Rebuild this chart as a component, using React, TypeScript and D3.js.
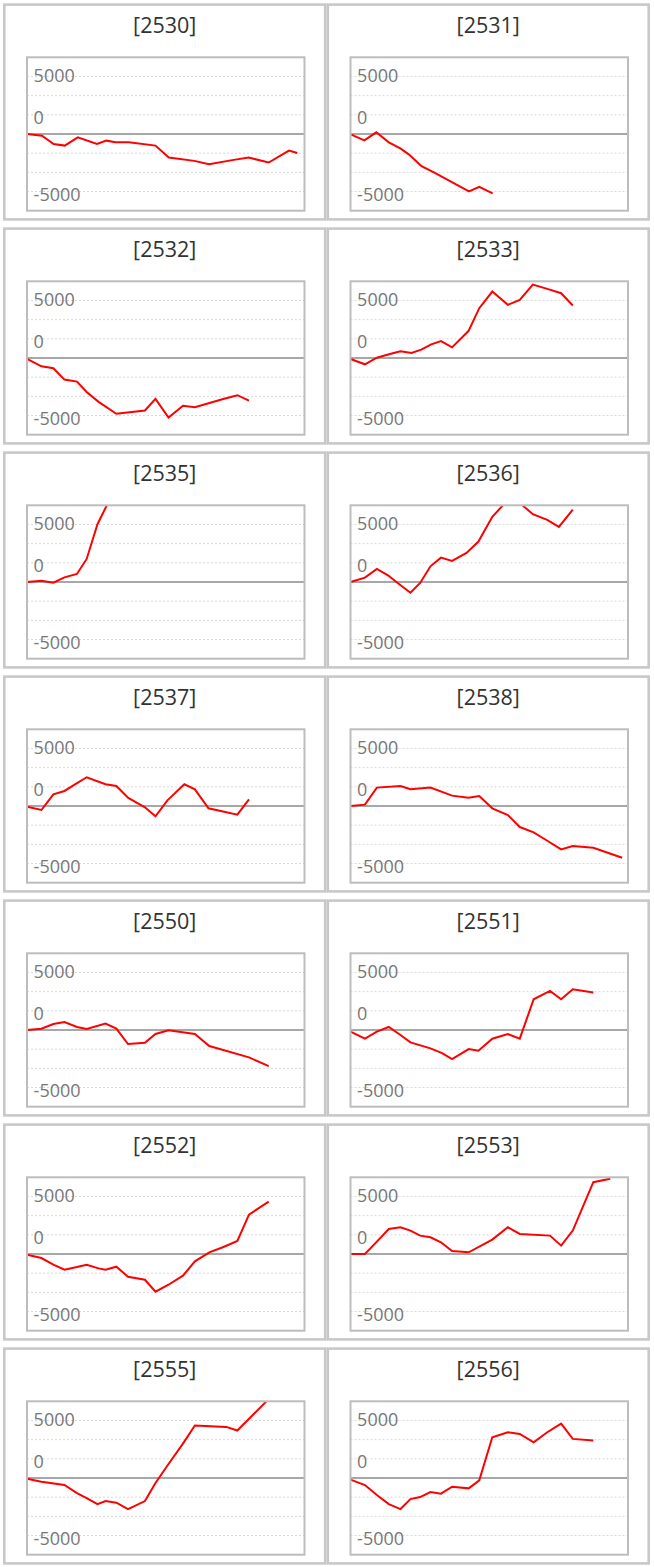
import React from 'react';
import * as d3 from 'd3';

// Panel codes (titles)
const codes = ['2530', '2531', '2532', '2533', '2535', '2536', '2537', '2538', '2550', '2551', '2552', '2553', '2555', '2556'];

// Y axis
const yMin = -5000;
const yMax = 5000;
const yLabels = [5000, 0, -5000];
const gridValues = [3750, 2500, 1250, -1250, -2500, -3750];

// Series: x position (percent of period), y value
const x2530 = [0, 5.4, 9.6, 13.6, 18.3, 25.2, 28.6, 31.9, 36.7, 46.3, 51.1, 60.3, 65.6, 74.5, 79.9, 87.1, 94.4, 97.4];
const y2530 = [0, -108, -649, -757, -216, -649, -433, -541, -541, -757, -1536, -1752, -1968, -1687, -1536, -1860, -1082, -1233];

const x2531 = [0.3, 5.0, 9.3, 13.8, 18.1, 21.1, 25.6, 30.4, 35.2, 42.7, 46.4, 51.2];
const y2531 = [-43, -411, 108, -541, -952, -1341, -2098, -2531, -3007, -3742, -3439, -3872];

const x2532 = [0, 5.2, 9.5, 13.5, 18.0, 21.5, 25.8, 32.2, 42.5, 46.3, 51.0, 56.2, 60.5, 70.4, 75.8, 80.0];
const y2532 = [-65, -541, -671, -1408, -1538, -2210, -2860, -3639, -3422, -2664, -3877, -3119, -3206, -2686, -2426, -2773];

const x2533 = [0, 5.2, 9.5, 14.2, 18.0, 22.0, 25.5, 29.1, 32.6, 36.6, 42.5, 46.4, 51.1, 56.7, 61.0, 65.7, 70.9, 75.9, 80.1];
const y2533 = [-65, -411, 22, 260, 433, 325, 541, 888, 1105, 693, 1755, 3249, 4332, 3466, 3791, 4787, 4506, 4224, 3423];

const x2535 = [0, 5.2, 9.5, 13.5, 18.0, 21.5, 25.4, 30.0];
const y2535 = [0, 87, -44, 305, 523, 1503, 3768, 5450];

const x2536 = [0, 5.2, 9.5, 13.5, 17.0, 21.6, 25.1, 28.8, 32.6, 36.6, 41.8, 46.1, 51.1, 56.7, 61.0, 65.7, 70.9, 75.1, 80.1];
const y2536 = [0, 283, 849, 436, -65, -697, -65, 1024, 1590, 1372, 1895, 2635, 4247, 5350, 5150, 4421, 4051, 3594, 4726];

const x2537 = [0, 5.2, 9.5, 13.5, 17.3, 21.5, 28.3, 32.2, 36.5, 42.5, 46.3, 50.6, 56.7, 60.5, 65.4, 75.8, 80.0];
const y2537 = [-44, -261, 762, 980, 1415, 1873, 1415, 1307, 523, -87, -675, 370, 1415, 1089, -152, -566, 436];

const x2538 = [0, 5.2, 9.5, 18.0, 21.6, 28.8, 36.6, 42.5, 46.4, 51.1, 56.7, 61.0, 66.0, 70.9, 75.9, 80.1, 87.5, 97.9];
const y2538 = [0, 87, 1198, 1307, 1089, 1198, 675, 545, 653, -152, -588, -1372, -1720, -2265, -2831, -2614, -2723, -3376];

const x2550 = [0, 5.2, 9.5, 13.5, 18.0, 21.5, 28.3, 32.2, 36.4, 42.5, 46.3, 51.0, 60.5, 65.7, 80.0, 87.1];
const y2550 = [0, 87, 392, 523, 196, 65, 414, 87, -915, -828, -261, -22, -261, -1045, -1786, -2352];

const x2551 = [0, 5.2, 9.5, 13.8, 18.0, 21.6, 28.8, 33.0, 36.6, 42.6, 46.1, 51.1, 56.7, 61.0, 66.0, 71.9, 75.9, 80.1, 87.5];
const y2551 = [-109, -566, -109, 196, -327, -806, -1198, -1503, -1895, -1242, -1350, -566, -261, -566, 2004, 2548, 2004, 2657, 2439];

const x2552 = [0, 5.2, 9.5, 13.5, 18.0, 21.5, 25.8, 28.3, 32.2, 36.4, 42.5, 46.3, 51.0, 56.2, 60.5, 65.7, 70.8, 75.8, 80.0, 87.1];
const y2552 = [-44, -261, -697, -1024, -850, -697, -936, -1024, -828, -1481, -1677, -2461, -2004, -1416, -479, 109, 457, 849, 2570, 3419];

const x2553 = [0, 5.2, 9.5, 13.8, 18.0, 21.6, 25.1, 28.8, 32.6, 36.6, 42.6, 51.1, 56.7, 61.0, 71.9, 75.9, 80.1, 87.5, 93.6];
const y2553 = [0, 0, 806, 1633, 1742, 1525, 1198, 1089, 762, 196, 109, 936, 1742, 1307, 1198, 545, 1525, 4683, 4900];

const x2555 = [0, 5.2, 13.5, 18.0, 21.5, 25.4, 28.3, 32.2, 36.4, 42.5, 46.3, 51.0, 56.2, 60.5, 71.8, 75.8, 87.1];
const y2555 = [-44, -239, -457, -980, -1307, -1699, -1503, -1612, -2025, -1503, -327, 915, 2243, 3419, 3332, 3093, 5150];

const x2556 = [0, 5.2, 9.5, 13.8, 18.0, 21.6, 25.1, 28.8, 32.6, 36.6, 42.6, 46.4, 51.1, 56.7, 61.0, 66.0, 70.9, 75.9, 80.1, 87.5];
const y2556 = [-109, -457, -1111, -1699, -2025, -1372, -1242, -915, -1024, -566, -675, -152, 2657, 2984, 2875, 2330, 2984, 3550, 2548, 2439];

const seriesX = [x2530, x2531, x2532, x2533, x2535, x2536, x2537, x2538, x2550, x2551, x2552, x2553, x2555, x2556];
const seriesY = [y2530, y2531, y2532, y2533, y2535, y2536, y2537, y2538, y2550, y2551, y2552, y2553, y2555, y2556];

const W = 654;
const H = 1567;
const FONT = "'Open Sans', 'Noto Sans', sans-serif";

function Panel({ idx }: { idx: number }) {
  const col = idx % 2;
  const row = Math.floor(idx / 2);
  const px = col === 0 ? 3 : 326.5;
  const pw = 323.5;
  const py = 3.3 + 224 * row;
  const ph = 217.4;
  const cx = px + 24;
  const cy = py + 54;
  const cw = 277.5;
  const ch = 153.4;

  const x = d3.scaleLinear().domain([0, 100]).range([cx, cx + cw]);
  const y = d3.scaleLinear().domain([yMin, yMax]).range([cy + ch, cy]);
  const data = seriesX[idx].map((v, i) => [v, seriesY[idx][i]] as [number, number]);
  const line = d3.line<[number, number]>().x((d) => x(d[0])).y((d) => y(d[1]));
  const clipId = `clip-${idx}`;

  const labelY = (v: number) => {
    const b = y(v) - 10.2;
    return Math.max(b, cy + 24.4);
  };

  return (
    <g>
      <rect x={px + 1.3} y={py + 1.3} width={pw - 2.6} height={ph - 2.6} fill="#fff" stroke="#c8c8c8" strokeWidth={2.6} />
      <text x={px + pw / 2} y={py + 30} textAnchor="middle" fontFamily={FONT} fontSize={21.5} fill="#333">
        [{codes[idx]}]
      </text>
      <clipPath id={clipId}>
        <rect x={cx} y={cy} width={cw} height={ch} />
      </clipPath>
      {gridValues.map((g) => (
        <line key={g} x1={cx} x2={cx + cw} y1={y(g)} y2={y(g)} stroke="#d9d9d9" strokeWidth={1} strokeDasharray="2,2" />
      ))}
      <line x1={cx} x2={cx + cw} y1={y(0)} y2={y(0)} stroke="#8a8a8a" strokeWidth={1.5} />
      {yLabels.map((v) => (
        <text key={v} x={cx + 6.6} y={labelY(v)} fontFamily={FONT} fontSize={18} fill="#777">
          {v}
        </text>
      ))}
      <path d={line(data) || ''} fill="none" stroke="#ff0000" strokeWidth={2} clipPath={`url(#${clipId})`} />
      <rect x={cx} y={cy} width={cw} height={ch} fill="none" stroke="#bdbdbd" strokeWidth={2} />
    </g>
  );
}

export default function App() {
  return (
    <>
      <style>{`body{margin:0}`}</style>
      <svg width={W} height={H} style={{ display: 'block' }}>
        <rect x={0} y={0} width={W} height={H} fill="#fff" />
        {codes.map((c, i) => (
          <Panel key={c} idx={i} />
        ))}
      </svg>
    </>
  );
}
